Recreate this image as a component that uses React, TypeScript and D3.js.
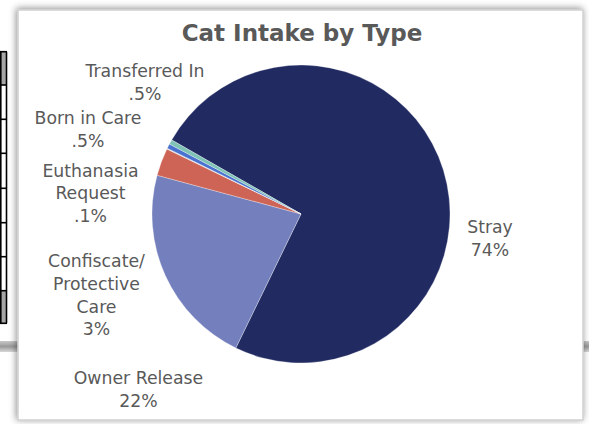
import React from "react";
import * as d3 from "d3";

// ---- data ----
const categories = [
  "Stray",
  "Owner Release",
  "Confiscate/Protective Care",
  "Euthanasia Request",
  "Born in Care",
  "Transferred In",
];
const values = [74, 22, 3, 0.1, 0.5, 0.5];
const percentLabels = ["74%", "22%", "3%", ".1%", ".5%", ".5%"];
const labelLines = [
  ["Stray"],
  ["Owner Release"],
  ["Confiscate/", "Protective", "Care"],
  ["Euthanasia", "Request"],
  ["Born in Care"],
  ["Transferred In"],
];
const sliceColors = ["#212B61", "#7480BD", "#CD6455", "#D9D9D9", "#4A72D0", "#7EC3B6"];
const title = "Cat Intake by Type";

// ---- layout ----
const W = 589;
const H = 424;
const cx = 301;
const cy = 214;
const radius = 149;
const firstSliceDeg = -60.2;
const lineH = 22.7;
// label anchor (center x, first baseline y)
const labelPos: [number, number][] = [
  [490, 233.3],
  [138.5, 384],
  [96.5, 267.3],
  [90.5, 176.7],
  [88, 124],
  [145, 77.3],
];
const tableLines = [51.7, 85, 119.3, 153.3, 188.3, 222.7, 256.7, 290.7, 323.3];

export default function App() {
  const start = (firstSliceDeg * Math.PI) / 180;
  const pie = d3
    .pie<number>()
    .sort(null)
    .value((d) => d)
    .startAngle(start)
    .endAngle(start + 2 * Math.PI);
  const arcs = pie(values);
  const arcGen = d3.arc<d3.PieArcDatum<number>>().innerRadius(0).outerRadius(radius);
  const font = "'DejaVu Sans', sans-serif";
  const textColor = "#595959";

  return (
    <svg
      width={W}
      height={H}
      viewBox={`0 0 ${W} ${H}`}
      style={{ position: "absolute", left: 0, top: 0, background: "#fff" }}
    >
      <defs>
        <filter id="shadow" x="-10%" y="-10%" width="120%" height="120%">
          <feDropShadow dx="-1" dy="-1" stdDeviation="3.5" floodColor="#000" floodOpacity="0.45" />
        </filter>
        <linearGradient id="barGrad" x1="0" y1="0" x2="0" y2="1">
          <stop offset="0" stopColor="#c8c8c8" />
          <stop offset="0.5" stopColor="#9a9a9a" />
          <stop offset="1" stopColor="#d8d8d8" />
        </linearGradient>
      </defs>

      {/* background worksheet table on the left */}
      <rect x={0} y={tableLines[0]} width={7} height={tableLines[1] - tableLines[0]} fill="#a6a6a6" />
      <rect x={0} y={tableLines[7]} width={7} height={tableLines[8] - tableLines[7]} fill="#a6a6a6" />
      {tableLines.map((y, i) => (
        <line key={i} x1={0} x2={7} y1={y} y2={y} stroke="#000" strokeWidth={1.6} />
      ))}
      <line x1={0.8} x2={0.8} y1={tableLines[0]} y2={tableLines[8]} stroke="#000" strokeWidth={1.6} />
      <line x1={6.5} x2={6.5} y1={tableLines[0]} y2={tableLines[8]} stroke="#000" strokeWidth={1.6} />

      {/* shadow bar of another panel */}
      <rect x={0} y={341} width={W} height={11} fill="url(#barGrad)" />

      {/* chart panel */}
      <rect x={18} y={10} width={565} height={410} fill="#fff" stroke="#d0d0d0" strokeWidth={1.5} filter="url(#shadow)" />

      <text
        x={302}
        y={40.7}
        textAnchor="middle"
        fontFamily={font}
        fontWeight="bold"
        fontSize={23}
        fill={textColor}
      >
        {title}
      </text>

      <g transform={`translate(${cx},${cy})`}>
        {arcs.map((a, i) => (
          <path key={categories[i]} d={arcGen(a) || ""} fill={sliceColors[i]} stroke="#fff" strokeWidth={0.5} strokeOpacity={0.6} />
        ))}
      </g>

      {categories.map((c, i) => {
        const [lx, ly] = labelPos[i];
        const lines = [...labelLines[i], percentLabels[i]];
        return (
          <text key={c} textAnchor="middle" fontFamily={font} fontSize={17.3} fill={textColor}>
            {lines.map((t, j) => (
              <tspan key={j} x={lx} y={ly + j * lineH}>
                {t}
              </tspan>
            ))}
          </text>
        );
      })}
    </svg>
  );
}
